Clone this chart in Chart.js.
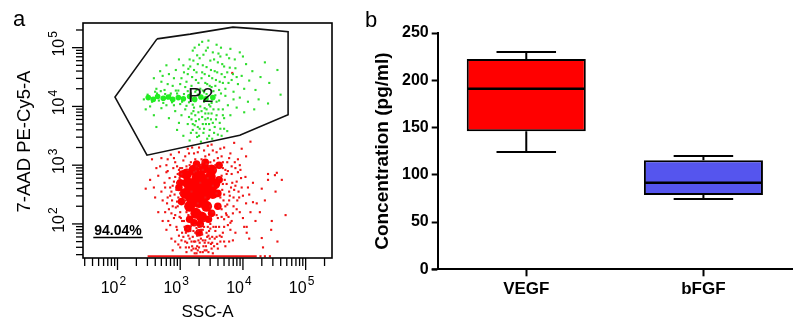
<!DOCTYPE html>
<html><head><meta charset="utf-8">
<script src="https://cdn.jsdelivr.net/npm/chart.js@4.4.1/dist/chart.umd.min.js"></script>
<style>
html,body{margin:0;padding:0;background:#fff;width:800px;height:322px;overflow:hidden;}
#wa{position:absolute;left:0;top:0;width:340px;height:322px;}
#wb{position:absolute;left:340px;top:0;width:460px;height:322px;}
</style></head><body>
<div id="wa"><canvas id="ca" width="340" height="322"></canvas></div>
<div id="wb"><canvas id="cb" width="460" height="322"></canvas></div>
<script>
// ---------- Panel a data (log10 units of SSC-A and 7-AAD PE-Cy5-A) ----------
const tickDecades = [1, 2, 3, 4, 5];
const tickMultipliers = [1, 2, 3, 4, 5, 6, 7, 8, 9];
const labelExponents = [2, 3, 4, 5];
const gateP2 = [[2.63,5.15],[3.16,5.23],[3.84,5.35],[4.23,5.32],[4.72,5.27],[4.72,3.86],[3.95,3.51],[2.47,3.17],[1.96,4.16],[2.63,5.15]];
const gateLabelPos = [3.33, 4.17];
const percentLabelPos = [1.63, 1.81];
const greenStreakDense = [[2.49,4.15],[2.57,4.12],[2.64,4.17],[2.73,4.14],[2.81,4.16],[2.88,4.12],[2.97,4.15],[3.05,4.13],[3.15,4.17],[3.23,4.12],[3.33,4.16],[3.41,4.13],[3.52,4.15]];
const greenEvents = [
[2.62,4.30],[2.70,4.42],[2.75,4.28],[2.82,4.55],[2.88,4.35],[2.93,4.62],[2.97,4.27],[3.02,4.48],[3.05,4.70],[3.08,4.33],[2.68,4.60],[2.85,4.22],[2.58,4.48],[3.00,4.38],[2.78,4.70],
[3.12,4.55],[3.15,4.80],[3.18,4.35],[3.20,4.95],[3.22,4.62],[3.25,4.45],[3.28,4.72],[3.30,5.05],[3.32,4.30],[3.35,4.58],[3.37,4.88],[3.40,4.40],[3.42,4.67],[3.44,5.00],[3.46,4.52],[3.48,4.78],[3.50,4.33],[3.52,4.92],[3.55,4.60],[3.57,4.45],[3.60,4.75],[3.62,4.28],[3.64,4.85],[3.66,4.55],[3.68,4.40],[3.70,4.68],[3.24,4.25],[3.38,4.24],[3.53,4.26],[3.16,4.68],[3.45,5.12],[3.58,5.05],[3.27,4.87],[3.47,4.35],
[3.72,4.30],[3.75,4.58],[3.78,4.82],[3.82,4.45],[3.85,4.25],[3.88,4.65],[3.92,4.38],[3.95,4.92],[3.98,4.52],[4.02,4.30],[4.05,4.72],[4.10,4.44],[4.15,4.60],[4.20,4.28],[4.28,4.50],[4.35,4.75],[4.42,4.40],[4.55,4.62],[3.80,4.98],[4.00,4.85],
[3.62,4.10],[3.68,3.95],[3.72,4.18],[3.76,4.02],[3.80,3.85],[3.85,4.12],[3.90,3.98],[3.95,4.15],[4.02,3.90],[4.08,4.08],[4.18,3.95],[4.25,4.12],[4.40,4.05],[4.60,4.20],[3.70,3.80],
[2.42,4.12],[2.48,4.20],[2.55,4.08],[2.63,4.22],[2.66,4.10],[2.73,4.06],[2.76,4.21],[2.84,4.19],[2.87,4.07],[2.95,4.22],[3.03,4.08],[3.06,4.21],[3.14,4.07],[3.17,4.22],[3.24,4.09],[3.28,4.20],[3.38,4.08],[3.42,4.21],[3.50,4.06],[3.56,4.19],[2.52,4.00],[2.90,4.02],[3.10,4.01],
[2.45,3.95],[2.58,3.85],[2.70,3.97],[2.82,3.80],[2.92,3.92],[2.98,3.72],[2.62,3.65],
[2.95,3.60],[3.02,3.85],[3.05,3.50],[3.08,3.95],[3.12,3.70],[3.15,3.42],[3.18,3.88],[3.20,3.60],[3.22,3.98],[3.25,3.75],[3.27,3.48],[3.29,3.90],[3.31,3.62],[3.33,3.40],[3.35,3.82],[3.37,3.55],[3.39,3.97],[3.41,3.70],[3.43,3.45],[3.45,3.88],[3.47,3.60],[3.49,3.78],[3.51,3.45],[3.53,3.95],[3.55,3.65],[3.58,3.85],[3.60,3.52],[3.63,3.72],[3.66,3.50],[3.70,3.62],[3.75,3.58],[3.24,3.85],[3.36,3.70],[3.44,3.80],[3.28,3.65],[3.40,3.88],[3.32,4.00],[3.48,4.00],[3.18,3.78],[3.52,3.72],
[3.10,4.42],[3.13,4.64],[3.19,4.50],[3.21,4.78],[3.26,4.58],[3.29,4.40],[3.31,4.82],[3.34,4.48],[3.36,4.70],[3.39,4.55],[3.41,4.95],[3.43,4.38],[3.49,4.62],[3.51,4.48],[3.54,4.80],[3.56,4.35],[3.59,4.58],[3.61,4.90],[3.63,4.42],[3.67,4.72],[3.71,4.50],[3.74,4.88],[3.77,4.40],[3.79,4.66],[3.84,4.55],[3.87,4.80],[3.90,4.50],[3.23,5.00],[3.35,5.10],[3.65,5.00],[3.06,4.58],[2.98,4.80],[2.90,4.48],[2.80,4.38],[2.72,4.52],
[3.14,3.82],[3.17,3.55],[3.21,3.92],[3.23,3.68],[3.26,3.55],[3.30,3.78],[3.34,3.92],[3.38,3.62],[3.42,3.95],[3.46,3.70],[3.50,3.88],[3.54,3.55],[3.57,3.78],[3.61,3.95],[3.64,3.62],[3.68,3.85],[3.30,3.50],[3.46,3.50],[3.20,3.70],[3.40,3.78],
[2.60,4.25],[2.78,4.02],[2.93,4.27],[3.00,4.04],[3.12,4.26],[3.20,4.03],[3.36,4.27],[3.46,4.03],[3.58,4.08],[3.65,4.22],[2.69,4.26],[3.26,4.28]
];
const redCoreLarge = [[3.28,2.62],[3.20,2.45],[3.38,2.50],[3.30,2.78],[3.18,2.65],[3.42,2.68],[3.30,2.40]];
const redCoreMid = [[3.12,2.70],[3.48,2.80],[3.15,2.30],[3.42,2.30],[3.25,2.18],[3.50,2.92],[3.08,2.52],[3.52,2.52],[3.22,2.92],[3.38,2.95],[3.10,2.85],[3.34,2.12],[3.55,2.68]];
const redCoreSmall = [[3.03,2.85],[3.62,2.75],[3.02,2.38],[3.60,2.30],[3.32,2.00],[3.15,2.08],[3.45,2.08],[3.40,3.05],[3.62,3.00],[2.98,2.62],[3.12,1.92],[3.30,1.85],[3.60,2.52],[3.00,2.70],[3.22,2.02],[3.50,2.18],[3.26,3.02]];
const redEvents = [
[2.55,3.10],[2.62,2.95],[2.70,3.12],[2.78,3.00],[2.85,3.18],[2.92,3.05],[2.98,3.22],[3.03,2.95],[3.08,3.15],[3.12,3.28],[3.17,3.05],[3.22,3.20],[3.26,2.98],[3.30,3.30],[3.34,3.10],[3.38,3.25],[3.42,3.02],[3.46,3.18],[3.50,3.35],[3.54,3.08],[3.58,3.22],[3.62,2.98],[3.66,3.15],[3.70,3.30],[3.75,3.05],[3.80,3.20],[3.86,3.38],[3.92,3.10],[3.98,3.28],[4.05,3.15],[4.12,3.40],[3.88,2.95],[3.72,2.92],[3.19,3.30],[3.44,3.33],
[2.45,2.60],[2.52,2.75],[2.58,2.62],[2.65,2.82],[2.70,2.55],[2.75,2.70],[2.80,2.90],[2.84,2.48],[2.88,2.65],[2.92,2.80],[2.95,2.38],[2.98,2.92],[3.00,2.52],[3.62,2.30],[3.66,2.82],[3.70,2.50],[3.74,2.68],[3.78,2.40],[3.82,2.85],[3.86,2.58],[3.90,2.72],[3.94,2.45],[3.98,2.62],[4.04,2.80],[4.10,2.50],[4.16,2.70],[4.22,2.35],[4.30,2.60],[4.40,2.85],[4.52,2.55],[4.62,2.75],[4.35,2.40],[4.05,2.35],[3.85,2.30],[3.68,2.95],[2.60,2.45],[2.72,2.40],
[2.65,2.20],[2.72,2.05],[2.78,1.90],[2.82,2.25],[2.86,1.75],[2.90,2.10],[2.94,1.95],[2.97,1.65],[3.00,2.20],[3.03,1.85],[3.06,2.05],[3.09,1.60],[3.12,1.92],[3.15,1.75],[3.18,1.55],[3.21,1.88],[3.24,1.70],[3.27,1.80],[3.30,1.60],[3.33,1.90],[3.36,1.72],[3.39,1.55],[3.42,1.85],[3.45,1.68],[3.48,2.00],[3.51,1.78],[3.54,1.62],[3.57,1.95],[3.60,2.10],[3.63,1.80],[3.66,2.25],[3.70,1.95],[3.74,2.15],[3.78,1.70],[3.82,2.05],[3.88,1.85],[3.95,2.20],[4.02,1.95],[4.10,1.75],[4.20,2.05],[4.32,1.60],[4.45,1.90],[4.55,1.70],[4.68,2.15],[3.13,2.15],[3.24,1.98],[3.38,2.05],[3.52,2.20],[2.88,1.55],[3.45,1.52],
[2.95,2.70],[3.02,2.85],[3.08,2.40],[3.12,2.92],[3.18,2.55],[3.22,2.88],[3.28,2.35],[3.32,2.70],[3.36,2.92],[3.40,2.45],[3.44,2.78],[3.48,2.30],[3.52,2.65],[3.56,2.92],[3.58,2.52],[3.62,2.78],[3.48,2.12],[3.10,2.20],[3.03,2.05],[3.25,2.90],[3.58,2.15],[3.00,2.95],[3.46,2.98],[3.15,3.00],[3.33,3.00],
[4.51,2.83],[4.46,2.05],[4.30,1.76],[4.27,2.20],[4.16,2.37],[4.06,1.95],[4.06,1.85],[4.40,2.75],[4.54,2.87],
[2.76,2.62],[2.79,2.35],[2.83,2.78],[2.86,2.18],[2.89,2.95],[2.91,2.50],[2.93,2.28],[2.96,2.85],[2.99,2.12],[2.81,2.05],[2.94,2.58],[2.87,2.40],[2.78,2.88],[2.97,2.45],[2.84,1.98],
[3.67,2.58],[3.69,2.40],[3.71,2.75],[3.73,2.18],[3.76,2.90],[3.78,2.55],[3.80,2.02],[3.83,2.70],[3.85,2.45],[3.87,3.05],[3.90,2.25],[3.92,2.88],[3.70,2.08],[3.75,2.33],[3.81,2.62],[3.66,2.12],[3.93,2.55],[3.97,2.78],
[3.02,1.72],[3.07,1.95],[3.11,1.68],[3.16,1.88],[3.19,1.62],[3.23,1.50],[3.26,1.93],[3.29,1.72],[3.32,1.52],[3.35,1.82],[3.41,1.62],[3.44,1.95],[3.47,1.75],[3.50,1.58],[3.56,1.88],[3.59,1.66],[3.62,1.95],[3.20,1.78],[3.40,1.72],
[2.90,3.12],[2.95,2.98],[3.05,3.08],[3.10,2.98],[3.14,3.20],[3.24,3.10],[3.28,3.22],[3.36,3.06],[3.40,3.15],[3.48,3.05],[3.52,3.25],[3.56,3.00],[3.60,3.12],[3.64,3.28],[3.68,3.05],[3.78,3.12],[3.82,2.98],[3.95,3.00],[2.80,3.10],[2.68,2.98],
[2.86,2.55],[2.90,2.72],[2.92,2.15],[2.96,2.30],[2.99,2.78],[3.01,2.10],[2.88,2.30],[2.84,2.62],[2.80,2.45],[2.76,2.20],
[3.64,2.45],[3.68,2.68],[3.72,2.30],[3.74,2.85],[3.77,2.12],[3.79,2.48],[3.84,2.18],[3.88,2.65],[3.91,2.40],[3.96,2.92],[4.00,2.48],[4.08,2.62],[4.12,2.20],[4.00,2.10],
[3.05,1.78],[3.09,1.85],[3.14,1.60],[3.17,1.96],[3.22,1.70],[3.25,1.58],[3.28,1.88],[3.31,1.68],[3.34,1.98],[3.37,1.62],[3.43,1.78],[3.46,1.88],[3.49,1.66],[3.53,1.95],[3.58,1.78],[3.64,1.70],[3.68,1.85],[3.72,1.62],[3.76,1.98],[3.84,1.72],[2.98,1.80],[2.92,1.70],[3.26,1.50],[3.36,1.52],
[3.18,1.70],[3.21,1.58],[3.24,1.85],[3.27,1.62],[3.30,1.95],[3.33,1.75],[3.36,1.90],[3.39,1.68],[3.42,1.55],[3.45,1.80],[3.48,1.92],[3.51,1.68],[3.55,1.75],[3.13,1.80],[3.10,1.52],[3.28,1.55],[3.38,1.95],[3.52,1.50],[3.60,1.58],[3.66,1.78],[3.08,1.70],[3.00,1.60],[2.95,1.90],[3.70,1.70],[3.80,1.90],
[4.28,1.45],[4.35,1.45],[4.43,1.45],[3.83,4.57]
];
const redFloorPile = [[2.48,1.45],[4.22,1.45]];

// ---------- Panel b data ----------
const categories = ['VEGF', 'bFGF'];
const boxMin = [124, 74.5];
const boxQ1 = [146, 78.5];
const boxMedian = [191, 91.5];
const boxQ3 = [222.5, 115.5];
const boxMax = [230, 120];
const yTickStep = 50;

const FONT = '"Liberation Sans", Arial, Helvetica, sans-serif';
Chart.defaults.font.family = FONT;
Chart.defaults.color = '#000';

const X_MIN = 1.45, X_MAX = 5.42, Y_MIN = 1.42, Y_MAX = 5.42;
const toXY = arr => arr.map(p => ({x: p[0], y: p[1]}));

const panelAPlugin = {
  id: 'panelA',
  afterDatasetsDraw(chart) {
    const {ctx, scales: {x, y}} = chart;
    ctx.save();
    ctx.fillStyle = '#111';
    ctx.font = '21px ' + FONT;
    ctx.textAlign = 'center'; ctx.textBaseline = 'middle';
    ctx.fillText('P2', x.getPixelForValue(gateLabelPos[0]), y.getPixelForValue(gateLabelPos[1]));
    ctx.font = 'bold 14px ' + FONT;
    ctx.textAlign = 'left'; ctx.textBaseline = 'alphabetic';
    const tx = x.getPixelForValue(percentLabelPos[0]), ty = y.getPixelForValue(percentLabelPos[1]);
    ctx.fillStyle = '#000';
    ctx.fillText('94.04%', tx, ty);
    const tw = ctx.measureText('94.04%').width;
    ctx.strokeStyle = '#000'; ctx.lineWidth = 1.5;
    ctx.beginPath(); ctx.moveTo(tx - 1, ty + 2.5); ctx.lineTo(tx + tw + 1, ty + 2.5); ctx.stroke();
    ctx.restore();
  },
  afterDraw(chart) {
    const {ctx, chartArea: a, scales: {x, y}} = chart;
    ctx.save();
    ctx.strokeStyle = '#000'; ctx.lineWidth = 1.6;
    ctx.strokeRect(a.left, a.top, a.right - a.left, a.bottom - a.top);
    ctx.lineWidth = 1.3;
    for (const n of tickDecades) for (const k of tickMultipliers) {
      const v = n + Math.log10(k);
      const len = k === 1 ? 11 : 7;
      if (v >= Y_MIN && v <= Y_MAX) {
        const py = y.getPixelForValue(v);
        ctx.beginPath(); ctx.moveTo(a.left, py); ctx.lineTo(a.left - len, py); ctx.stroke();
      }
      if (v >= X_MIN && v <= X_MAX) {
        const px = x.getPixelForValue(v);
        ctx.beginPath(); ctx.moveTo(px, a.bottom); ctx.lineTo(px, a.bottom + len + 1); ctx.stroke();
      }
    }
    ctx.fillStyle = '#000';
    for (const e of labelExponents) {
      const px = x.getPixelForValue(e);
      ctx.font = '16px ' + FONT; ctx.textAlign = 'right'; ctx.textBaseline = 'alphabetic';
      ctx.fillText('10', px + 1, a.bottom + 35);
      ctx.font = '12px ' + FONT; ctx.textAlign = 'left';
      ctx.fillText(String(e), px + 2, a.bottom + 27);
      const py = y.getPixelForValue(e);
      ctx.save();
      ctx.translate(a.left - 19, py); ctx.rotate(-Math.PI / 2);
      ctx.font = '16px ' + FONT; ctx.textAlign = 'center';
      ctx.fillText('10', 0, 0);
      const w = ctx.measureText('10').width;
      ctx.font = '12px ' + FONT; ctx.textAlign = 'left';
      ctx.fillText(String(e), w / 2 + 1, -7);
      ctx.restore();
    }
    ctx.font = '17px ' + FONT; ctx.textAlign = 'center';
    ctx.fillText('SSC-A', (a.left + a.right) / 2, 317);
    ctx.save();
    ctx.translate(30, 141.5); ctx.rotate(-Math.PI / 2);
    ctx.font = '18.5px ' + FONT;
    ctx.fillText('7-AAD PE-Cy5-A', 0, 0);
    ctx.restore();
    ctx.font = '22px ' + FONT; ctx.textAlign = 'left';
    ctx.fillText('a', 13, 26);
    ctx.restore();
  }
};

const ptBase = {showLine: false, pointStyle: 'rect', pointBorderWidth: 0, borderWidth: 0};
const blobBase = {showLine: false, pointStyle: 'circle', pointBorderWidth: 0, borderWidth: 0};
new Chart(document.getElementById('ca'), {
  type: 'scatter',
  data: {
    datasets: [
      {data: toXY(gateP2), showLine: true, borderColor: '#111', borderWidth: 1.6, pointRadius: 0, fill: false, tension: 0},
      Object.assign({data: toXY(greenStreakDense), pointRadius: 2.8, backgroundColor: '#22ee22'}, blobBase),
      Object.assign({data: toXY(greenEvents), pointRadius: 1.5, backgroundColor: '#2fde2f'}, ptBase),
      Object.assign({data: toXY(redEvents), pointRadius: 1.5, backgroundColor: '#f01414'}, ptBase),
      Object.assign({data: toXY(redCoreLarge), pointRadius: 7.5, backgroundColor: '#ff0000'}, blobBase),
      Object.assign({data: toXY(redCoreMid), pointRadius: 5.5, backgroundColor: '#ff0000'}, blobBase),
      Object.assign({data: toXY(redCoreSmall), pointRadius: 3.8, backgroundColor: '#ff0000'}, blobBase),
      {data: toXY(redFloorPile), showLine: true, borderColor: '#f01414', borderWidth: 2, pointRadius: 0}
    ]
  },
  options: {
    responsive: false, animation: false, events: [],
    layout: {padding: {left: 83, top: 23, right: 8, bottom: 64}},
    plugins: {legend: {display: false}, tooltip: {enabled: false}},
    scales: {
      x: {type: 'linear', min: X_MIN, max: X_MAX, display: false},
      y: {type: 'linear', min: Y_MIN, max: Y_MAX, display: false}
    }
  },
  plugins: [panelAPlugin]
});

// ---------- Panel b ----------
const boxPlugin = {
  id: 'boxWhiskers',
  afterDatasetsDraw(chart) {
    const {ctx, scales: {y}} = chart;
    const meta = chart.getDatasetMeta(0);
    ctx.save();
    ctx.strokeStyle = '#000'; ctx.lineCap = 'butt';
    categories.forEach((c, i) => {
      const el = meta.data[i];
      const cx = el.x, w = el.width;
      const yMin = y.getPixelForValue(boxMin[i]), yMax = y.getPixelForValue(boxMax[i]);
      const yQ1 = y.getPixelForValue(boxQ1[i]), yQ3 = y.getPixelForValue(boxQ3[i]);
      const yMed = y.getPixelForValue(boxMedian[i]);
      ctx.lineWidth = 2;
      ctx.beginPath();
      ctx.moveTo(cx, yQ3); ctx.lineTo(cx, yMax);
      ctx.moveTo(cx - w / 4, yMax); ctx.lineTo(cx + w / 4, yMax);
      ctx.moveTo(cx, yQ1); ctx.lineTo(cx, yMin);
      ctx.moveTo(cx - w / 4, yMin); ctx.lineTo(cx + w / 4, yMin);
      ctx.stroke();
      ctx.lineWidth = 2.5;
      ctx.beginPath(); ctx.moveTo(cx - w / 2 + 1, yMed); ctx.lineTo(cx + w / 2 - 1, yMed); ctx.stroke();
    });
    ctx.restore();
  },
  afterDraw(chart) {
    const {ctx, chartArea: a} = chart;
    ctx.save();
    ctx.strokeStyle = '#000'; ctx.lineWidth = 2;
    ctx.beginPath(); ctx.moveTo(a.left - 6, a.bottom); ctx.lineTo(a.left, a.bottom); ctx.stroke();
    ctx.fillStyle = '#000';
    ctx.font = '22px ' + FONT; ctx.textAlign = 'left'; ctx.textBaseline = 'alphabetic';
    ctx.fillText('b', 25, 27);
    ctx.restore();
  }
};

new Chart(document.getElementById('cb'), {
  type: 'bar',
  data: {
    labels: categories,
    datasets: [{
      data: categories.map((c, i) => [boxQ1[i], boxQ3[i]]),
      backgroundColor: ['#ff0000', '#5555ee'],
      borderColor: '#000', borderWidth: 2, borderSkipped: false,
      barPercentage: 0.672, categoryPercentage: 1
    }]
  },
  options: {
    responsive: false, animation: false, events: [],
    layout: {padding: {left: 0, top: 33, right: 8, bottom: 0}},
    plugins: {legend: {display: false}, tooltip: {enabled: false}},
    scales: {
      x: {
        grid: {display: true, drawOnChartArea: false, offset: false, tickLength: 7, tickWidth: 2, tickColor: '#000'},
        border: {color: '#000', width: 2},
        ticks: {color: '#000', font: {size: 17, weight: 'bold'}, padding: 3},
        afterFit(s) { s.height = 52.7; }
      },
      y: {
        min: 0, max: 250,
        ticks: {stepSize: yTickStep, color: '#000', font: {size: 16, weight: 'bold'}, padding: 3},
        grid: {drawOnChartArea: false, tickLength: 6, tickWidth: 2, tickColor: '#000'},
        border: {color: '#000', width: 2},
        title: {display: true, text: 'Concentration (pg/ml)', color: '#000', font: {size: 19, weight: 'bold'}, padding: {top: 31, bottom: 0}},
        afterFit(s) { s.width = 97.7; }
      }
    }
  },
  plugins: [boxPlugin]
});
</script>
</body></html>
